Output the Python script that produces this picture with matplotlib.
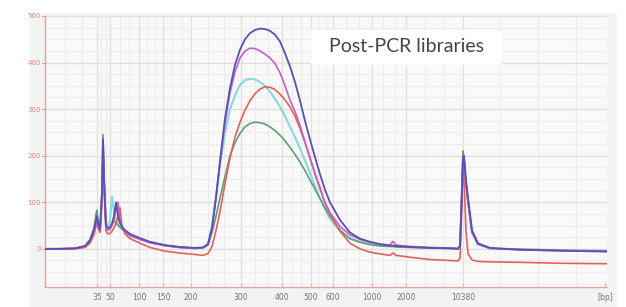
import numpy as np
import matplotlib
matplotlib.use("Agg")
import matplotlib.pyplot as plt
from matplotlib.patches import Rectangle

# migration time (s) of the sampled points
t = [40.0, 41.88, 43.75, 45.0, 45.62, 46.12, 46.38, 46.5, 46.62, 46.88,
     47.12, 47.25, 47.38, 47.62, 47.88, 48.12, 48.38, 48.62, 48.88, 49.12,
     49.38, 49.62, 50.0, 50.62, 51.88, 53.12, 55.0, 56.88, 58.75, 59.75,
     60.38, 60.88, 61.38, 61.88, 62.5, 63.12, 63.75, 64.38, 65.0, 65.62,
     66.25, 66.88, 67.5, 68.12, 68.75, 69.38, 70.0, 70.62, 71.25, 71.88,
     72.5, 73.12, 73.75, 74.38, 75.0, 75.62, 76.88, 78.12, 79.38, 80.62,
     81.88, 83.12, 83.5, 83.88, 85.62, 88.12, 90.62, 91.62, 91.88, 92.12,
     92.25, 92.38, 92.62, 92.88, 93.38, 94.12, 95.62, 99.38, 104.38, 110.25]

blue = [0, 0, 1, 6, 18, 40, 62, 70, 55, 42,
        120, 235, 150, 50, 45, 46, 55, 70, 100, 70,
        55, 48, 40, 32, 23, 15, 8, 4, 2, 3,
        10, 45, 110, 190, 280, 345, 395, 428, 450, 463,
        470, 473, 472, 468, 460, 445, 420, 392, 358, 318,
        275, 235, 197, 160, 127, 100, 62, 35, 22, 15,
        10, 7, 7, 6, 4, 2, 1, 0, 5, 120,
        195, 200, 150, 110, 40, 12, 2, -2, -4, -6]

magenta = [0, 0, 1, 5, 16, 35, 55, 62, 50, 40,
           110, 230, 145, 45, 40, 42, 50, 65, 85, 100,
           65, 45, 36, 28, 20, 13, 7, 3, 1, 2,
           10, 45, 110, 185, 270, 335, 380, 410, 425, 431,
           430, 425, 418, 410, 398, 378, 350, 320, 295, 265,
           230, 195, 160, 128, 100, 78, 48, 30, 20, 14,
           10, 8, 16, 8, 5, 3, 2, 1, 8, 130,
           200, 195, 140, 100, 35, 10, 1, -2, -4, -5]

cyan = [0, 0, 1, 5, 15, 35, 55, 65, 52, 42,
        110, 225, 140, 55, 50, 60, 112, 80, 60, 55,
        50, 44, 38, 30, 21, 14, 7, 3, 1, 2,
        12, 50, 115, 180, 250, 300, 330, 352, 362, 365,
        364, 358, 350, 338, 322, 305, 285, 262, 240, 215,
        190, 163, 135, 108, 85, 65, 38, 22, 15, 11,
        8, 6, 6, 5, 4, 2, 1, 0, 6, 125,
        195, 190, 140, 100, 35, 10, 1, -1, -3, -4]

red = [0, 0, 0, 3, 12, 30, 50, 58, 45, 35,
       100, 220, 140, 38, 32, 33, 38, 45, 55, 70,
       88, 50, 32, 22, 12, 3, -5, -9, -12, -14,
       -10, 5, 40, 80, 140, 195, 240, 272, 298, 318,
       333, 343, 348, 347, 342, 332, 320, 305, 285, 258,
       228, 195, 162, 132, 98, 75, 38, 12, 0, -7,
       -11, -14, -9, -14, -18, -23, -25, -26, -20, 100,
       190, 150, 40, -10, -24, -27, -28, -29, -31, -32]

green = [0, 0, 1, 6, 20, 45, 75, 83, 60, 45,
         125, 245, 155, 50, 42, 44, 52, 60, 55, 50,
         46, 42, 37, 30, 21, 14, 7, 3, 1, 2,
         8, 35, 70, 110, 155, 200, 228, 248, 262, 269,
         272, 271, 268, 262, 254, 244, 232, 218, 203, 186,
         168, 148, 128, 108, 88, 70, 40, 22, 14, 9,
         6, 5, 5, 4, 3, 2, 1, 0, 6, 130,
         210, 190, 140, 100, 35, 10, 1, -1, -3, -5]

# ladder sizes and their migration times
tick_pos = [46.5, 48.12, 51.75, 54.75, 58.25, 64.5, 69.62, 73.25, 76.0,
            80.88, 85.12, 92.25, 110.0]
tick_lab = ['35', '50', '100', '150', '200', '300', '400', '500', '600',
            '1000', '2000', '10380', '[bp]']

fig = plt.figure(figsize=(6.26, 3.07), dpi=100)
fig.patches.append(Rectangle((0.048, 0.0), 0.938, 0.958, transform=fig.transFigure,
                             facecolor='#f3f3f3', edgecolor='none', zorder=-10))

ax = fig.add_axes([0.0719, 0.0651, 0.8977, 0.8828])
ax.set_facecolor('#f9f9f9')

# grid
minor_x = []
for a, b in zip(tick_pos[:-2], tick_pos[1:-1]):
    minor_x += list(np.linspace(a, b, 4)[1:-1])
minor_x += [42.5, 44.6, 96.9, 101.6, 106.4]
for xv in minor_x:
    ax.axvline(xv, color='#ecebeb', lw=0.8, zorder=1)
for xv in tick_pos[:-1]:
    ax.axvline(xv, color='#e3dfdf', lw=0.9, zorder=1)
for yv in np.arange(-75, 500, 25):
    ax.axhline(yv, color='#eeebeb', lw=0.8, zorder=1)
for yv in range(0, 501, 100):
    ax.axhline(yv, color='#e6dcdc', lw=0.9, zorder=1)

ax.plot(t, cyan, color='#86d8e2', lw=1.5, zorder=3)
ax.plot(t, green, color='#5f9f72', lw=1.2, zorder=3)
ax.plot(t, red, color='#e0625e', lw=1.2, zorder=4)
ax.plot(t, magenta, color='#c362c4', lw=1.2, zorder=4)
ax.plot(t, blue, color='#5b4fb3', lw=1.3, zorder=5)

ax.set_xlim(40, 110.25)
ax.set_ylim(-82, 500)

ax.set_yticks(range(0, 501, 100))
ax.tick_params(axis='y', colors='#e98585', labelsize=5, length=2, width=0.8, pad=1)
ax.set_xticks(tick_pos)
ax.set_xticklabels(tick_lab)
ax.tick_params(axis='x', colors='#e8a6a6', labelcolor='#777777', labelsize=5.5,
               length=3, width=0.6, direction='in', pad=4)

for s in ['top', 'right']:
    ax.spines[s].set_visible(False)
for s in ['left', 'bottom']:
    ax.spines[s].set_color('#eba0a0')
    ax.spines[s].set_linewidth(1.0)

# label box
fig.patches.append(Rectangle((311 / 626, 1 - 65 / 307), 191 / 626, 35 / 307,
                             transform=fig.transFigure, facecolor='white',
                             edgecolor='none', zorder=6))
fig.text(329 / 626, 1 - 47 / 307, 'Post-PCR libraries', family=['Lato', 'DejaVu Sans'],
         fontsize=14, color='#444444', va='center', ha='left', zorder=7)

fig.savefig('out.png', dpi=100)
